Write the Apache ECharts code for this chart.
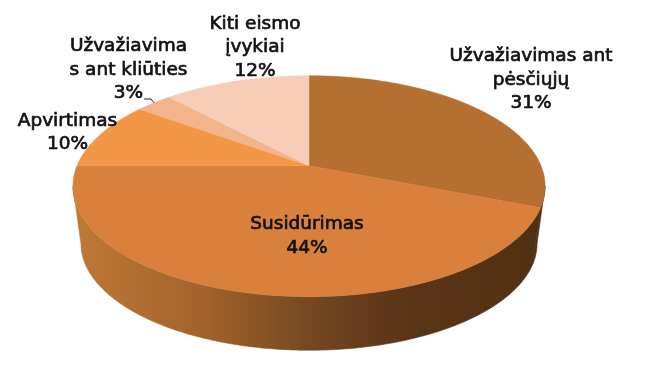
<!DOCTYPE html>
<html>
<head>
<meta charset="utf-8">
<style>html,body{margin:0;padding:0;background:#fff}#c{width:650px;height:366px}</style>
<script src="https://cdn.jsdelivr.net/npm/echarts@6/dist/echarts.min.js"></script>
</head>
<body>
<div id="c"></div>
<script>
const categories = ['Užvažiavimas ant\npėsčiųjų', 'Susidūrimas', 'Apvirtimas', 'Užvažiavima\ns ant kliūties', 'Kiti eismo\nįvykiai'];
const percents = [31, 44, 10, 3, 12];

const sliceColors = ['#B56F30', '#D8803C', '#F39747', '#F3B48C', '#F7CDB8'];
const labelCenters = [[531, 80], [307, 236], [67.5, 132.5], [128.5, 70], [255, 47.5]];

const VIEW = { cx: 309, cy: 165.7, a: 106.7, b: 232, k: 0.1855, depth: 58, shrink: 0.966 };
const total = percents.reduce((s, v) => s + v, 0);

function angleAt(index) {
  let sum = 0;
  for (let i = 0; i < index; i++) sum += percents[i];
  return sum / total * Math.PI * 2;
}
function project(theta) {
  const x = Math.sin(theta), t = -Math.cos(theta);
  const d = 1 - VIEW.k * t;
  return [VIEW.b * x / d, VIEW.a * t / d];
}
function topPoint(theta) {
  const p = project(theta);
  return [VIEW.cx + p[0], VIEW.cy + p[1]];
}
function bottomPoint(theta) {
  const p = project(theta);
  return [VIEW.cx + p[0] * VIEW.shrink, VIEW.cy + VIEW.depth + p[1] * VIEW.shrink];
}
function arc(fn, from, to) {
  const n = Math.max(2, Math.ceil((to - from) / 0.01));
  const pts = [];
  for (let i = 0; i <= n; i++) pts.push(fn(from + (to - from) * i / n));
  return pts;
}

const wallFill = new echarts.graphic.LinearGradient(73, 0, 544, 0, [
  { offset: 0, color: '#BD7937' },
  { offset: 0.28, color: '#A2622B' },
  { offset: 0.53, color: '#704520' },
  { offset: 0.7, color: '#5A3518' },
  { offset: 1, color: '#503014' }
], true);

const visStart = Math.acos(-VIEW.k), visEnd = Math.PI * 2 - visStart;

function renderWall(params, api) {
  const i = params.dataIndex;
  const from = Math.max(angleAt(i), visStart);
  const to = Math.min(angleAt(i) + api.value(1) / total * Math.PI * 2, visEnd);
  if (to <= from) return { type: 'group', children: [] };
  const pts = arc(topPoint, from, to).concat(arc(bottomPoint, from, to).reverse());
  return { type: 'polygon', shape: { points: pts }, style: { fill: wallFill, stroke: wallFill, lineWidth: 0.6 } };
}
function renderTop(params, api) {
  const i = params.dataIndex;
  const from = angleAt(i);
  const to = from + api.value(1) / total * Math.PI * 2;
  const pts = [[VIEW.cx, VIEW.cy]].concat(arc(topPoint, from, to));
  const c = sliceColors[i];
  return { type: 'polygon', shape: { points: pts }, style: { fill: c, stroke: c, lineWidth: 0.5 } };
}
function renderLabel(params, api) {
  const i = params.dataIndex;
  const pos = labelCenters[i];
  const children = [{
    type: 'text',
    style: {
      text: categories[i] + '\n' + api.value(1) + '%',
      x: pos[0], y: pos[1],
      align: 'center', verticalAlign: 'middle',
      fontFamily: 'DejaVu Sans', fontSize: 18.5, lineHeight: 23.5,
      fill: '#111', stroke: '#111', lineWidth: 0.7
    }
  }];
  if (i === 3) {
    const mid = angleAt(i) + api.value(1) / total * Math.PI;
    const end = topPoint(mid);
    children.push({
      type: 'polyline',
      shape: { points: [[144, 99], [151, 99], end] },
      style: { fill: 'none', stroke: '#222', lineWidth: 1 }
    });
  }
  return { type: 'group', children };
}

const rows = percents.map((v, i) => [i, v]);
const chart = echarts.init(document.getElementById('c'), null, { renderer: 'canvas' });
chart.setOption({
  animation: false,
  backgroundColor: '#fff',
  series: [
    { type: 'custom', coordinateSystem: 'none', data: rows, renderItem: renderWall, z: 1, silent: true },
    { type: 'custom', coordinateSystem: 'none', data: rows, renderItem: renderTop, z: 2, silent: true },
    { type: 'custom', coordinateSystem: 'none', data: rows, renderItem: renderLabel, z: 3, silent: true }
  ]
});
</script>
</body>
</html>
